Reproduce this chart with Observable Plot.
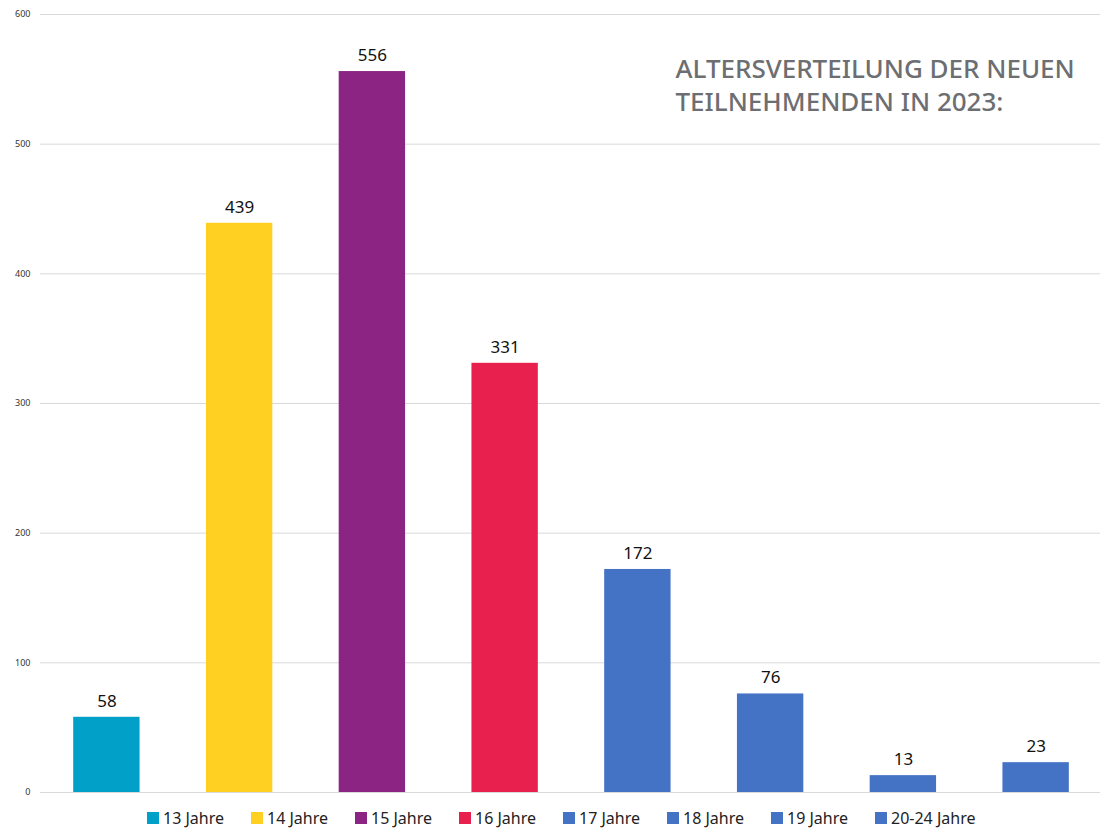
<!DOCTYPE html>
<html><head><meta charset="utf-8">
<script src="https://cdn.jsdelivr.net/npm/d3@7"></script>
<script src="https://cdn.jsdelivr.net/npm/@observablehq/plot@0.6"></script>
<style>
body{margin:0;background:#fff;font-family:"Noto Sans",sans-serif;}
#legend{display:flex;justify-content:center;height:26px;align-items:center;font-size:16px;color:#222;padding-left:26px;}
.item{display:flex;align-items:center;width:104px;white-space:nowrap;}
.sw{width:12px;height:12px;margin-right:4px;display:inline-block;}
</style></head><body>
<div id="chart"></div>
<div id="legend"></div>
<script>
const categories = ["13 Jahre","14 Jahre","15 Jahre","16 Jahre","17 Jahre","18 Jahre","19 Jahre","20-24 Jahre"];
const values = [58, 439, 556, 331, 172, 76, 13, 23];
const colors = ["#00A0C9","#FFD022","#8B2482","#E8204E","#4472C4","#4472C4","#4472C4","#4472C4"];
const yTicks = [0,100,200,300,400,500,600];
const titleLines = ["ALTERSVERTEILUNG DER NEUEN","TEILNEHMENDEN IN 2023:"];

const data = categories.map((c,i)=>({cat:c, value:values[i], color:colors[i]}));

const chart = Plot.plot({
  width: 1100,
  height: 805,
  marginLeft: 40,
  marginRight: -2,
  marginTop: 14,
  marginBottom: 13,
  style: {fontFamily: "Noto Sans, sans-serif", background: "#fff"},
  x: {domain: categories, paddingInner: 0.5, paddingOuter: 0.25, round: false, axis: null},
  y: {domain: [0,600], label: null, axis: null},
  marks: [
    Plot.ruleY(yTicks, {stroke: "#d9d9d9", strokeWidth: 1}),
    Plot.text(yTicks, {y: d => d, text: d => String(d), frameAnchor: "left", dx: -10, textAnchor: "end", fontSize: 9, fill: "#333"}),
    Plot.barY(data, {x: "cat", y: "value", fill: "color"}),
    Plot.text(data, {x: "cat", y: "value", text: d => String(d.value), dy: -16, fontSize: 17, fill: "#111"}),
    Plot.text([titleLines.join("\n")], {frameAnchor: "top-left", dx: 635, dy: 40, text: d => d, textAnchor: "start", lineAnchor: "top", lineHeight: 1.27, fontSize: 26, fill: "#6d6e71", fontWeight: 500})
  ]
});
document.getElementById("chart").appendChild(chart);

const leg = document.getElementById("legend");
categories.forEach((c,i)=>{
  const it = document.createElement("div"); it.className="item";
  const sw = document.createElement("span"); sw.className="sw"; sw.style.background = colors[i];
  it.appendChild(sw); it.appendChild(document.createTextNode(c));
  leg.appendChild(it);
});
</script>
</body></html>
